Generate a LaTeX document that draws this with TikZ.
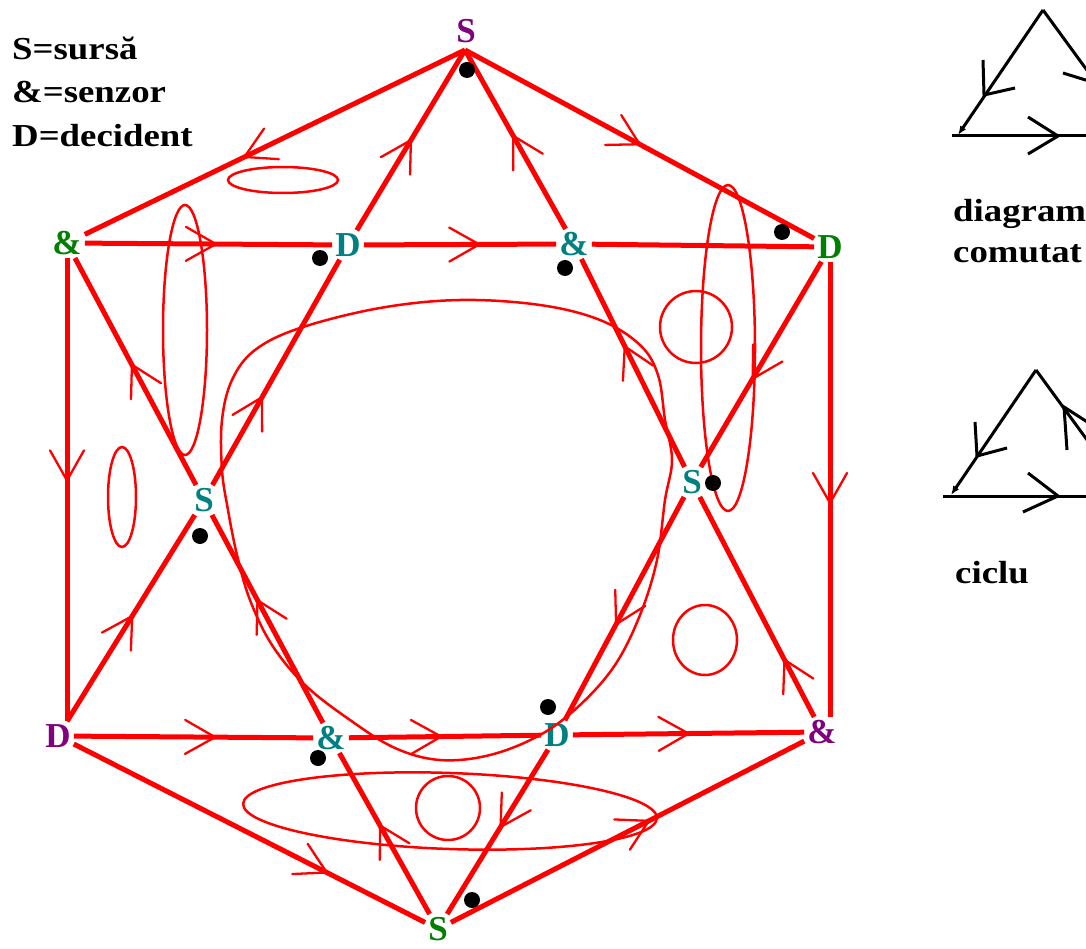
\documentclass[tikz,border=0pt]{standalone}
\usepackage{fontspec}
\setmainfont{Liberation Serif}
\newfontfamily\legfont{Liberation Serif}[FakeStretch=1.15]
\usetikzlibrary{decorations.markings,arrows.meta}
\definecolor{purp}{RGB}{128,0,128}
\definecolor{grn}{RGB}{0,128,0}
\definecolor{tea}{RGB}{0,128,128}
\begin{document}
\begin{tikzpicture}[x=1pt,y=-1pt,
  lab/.style={font=\fontsize{35}{35}\selectfont\bfseries, inner sep=3pt},
  leg/.style={font=\legfont\fontsize{32}{32}\selectfont\bfseries, inner sep=0pt, anchor=base west},
  ln/.style={red, line width=5pt},
  thinred/.style={red, line width=2.5pt},
  tarrow/.style={red, line width=2.3pt, line cap=round, line join=miter},
  blk/.style={black, line width=3pt},
  fw/.style={postaction={decorate, decoration={markings, mark=at position #1 with {\draw[tarrow] (-30,17) -- (0,0) -- (-30,-17);}}}},
  dot/.style={fill=black}
]
\useasboundingbox (0,0) rectangle (1086,949);

% legend
\node[leg] (l1) at (12,60) {S=sursă};
\node[leg] (l2) at (12,103) {\&=senzor};
\node[leg] (l3) at (12,147) {D=decident};

% nodes
\node[lab,text=purp] (tS) at (466,31) {S};
\coordinate (tSv) at (465,50);
\node[lab,text=grn] (lA) at (67,243) {\&};
\node[lab,text=tea] (D1) at (348,245) {D};
\node[lab,text=tea] (A1) at (574,244) {\&};
\node[lab,text=grn] (rD) at (830,247) {D};
\node[lab,text=tea] (S1) at (204,500) {S};
\node[lab,text=tea] (S2) at (692,482) {S};
\node[lab,text=purp] (blD) at (58,736) {D};
\node[lab,text=tea] (A2) at (331,738) {\&};
\node[lab,text=tea] (D2) at (557,735) {D};
\node[lab,text=purp] (brA) at (822,732) {\&};
\node[lab,text=grn] (bS) at (438,929) {S};

% hexagon edges
\draw[ln,fw=0.58] (tSv) -- (lA);
\draw[ln,fw=0.5] (tSv) -- (rD);
\draw[ln,fw=0.48] (lA) -- (lA |- blD.north);
\draw[ln,fw=0.53] (rD) -- (rD |- brA.north);
\draw[ln,fw=0.72] (blD) -- (bS);
\draw[ln,fw=0.56] (bS) -- (brA);
% horizontals
\draw[ln,fw=0.53] (lA) -- (D1);
\draw[ln,fw=0.6] (D1) -- (A1);
\draw[ln] (A1) -- (rD);
\draw[ln,fw=0.59] (blD) -- (A2);
\draw[ln,fw=0.48] (A2) -- (D2);
\draw[ln,fw=0.5] (D2) -- (brA);
% line A
\draw[ln,fw=0.5] (D1) -- (tSv);
\draw[ln,fw=0.39] (S1) -- (D1);
\draw[ln,fw=0.51] (blD) -- (S1);
% line B
\draw[ln,fw=0.52] (A1) -- (tSv);
\draw[ln,fw=0.58] (S2) -- (A1);
\draw[ln,fw=0.26] (brA) -- (S2);
% line C
\draw[ln,fw=0.53] (S1) -- (lA);
\draw[ln,fw=0.59] (A2) -- (S1);
\draw[ln,fw=0.55] (bS) -- (A2);
% line D
\draw[ln,fw=0.57] (rD) -- (S2);
\draw[ln,fw=0.57] (S2) -- (D2);
\draw[ln,fw=0.47] (D2) -- (bS);

% ellipses and circles
\draw[thinred] (283,180) ellipse [x radius=55, y radius=13];
\draw[thinred] (185,330) ellipse [x radius=22, y radius=125];
\draw[thinred] (122,497) ellipse [x radius=14, y radius=50];
\draw[thinred] (728,348) ellipse [x radius=27, y radius=163];
\draw[thinred] (696,327) circle [radius=36];
\draw[thinred] (705,640) ellipse [x radius=32, y radius=35];
\draw[thinred] (448,808) circle [radius=32];
\draw[thinred, rotate around={-2:(450,811)}] (450,811) ellipse [x radius=207, y radius=38];

% big loop
\draw[thinred] plot[smooth cycle, tension=0.6] coordinates {
 (222,470) (222,420) (232,380) (255,350) (300,328) (380,308) (460,300)
 (540,305) (600,320) (640,345) (658,375) (665,420) (672,460) (665,500)
 (657,560) (640,615) (615,665) (580,705) (540,735) (490,755) (440,760)
 (395,748) (350,720) (305,685) (272,645) (250,600) (237,555) (228,510)};

% dots
\foreach \p in {(467,70),(320,258),(565,268),(782,232),(200,536),(713,483),(548,707),(318,758),(472,900)}
  \fill[dot] \p circle [radius=8];

% right-side triangles
\begin{scope}
\clip (0,0) rectangle (1086,949);
\coordinate (t1a) at (1043,10);
\coordinate (t1l) at (958,135);
\draw[blk,-{Latex[length=9pt,width=7pt]}] (t1a) -- (t1l);
\draw[blk] (t1a) -- (1135,136);
\draw[blk] (952,136) -- (1090,136);
\draw[blk] (983,60) -- (984,95) -- (1015,88);
\draw[blk] (1028,117) -- (1058,136) -- (1028,154);
\draw[blk] (1063,73) -- (1092,82);
\coordinate (t2a) at (1036,370);
\coordinate (t2l) at (951,495);
\draw[blk,-{Latex[length=9pt,width=7pt]}] (t2a) -- (t2l);
\draw[blk] (t2a) -- (1128,496);
\draw[blk] (943,496) -- (1090,496);
\draw[blk] (975,422) -- (977,456) -- (1007,448);
\draw[blk] (1067,450) -- (1064,407) -- (1092,425);
\draw[blk] (1028,473) -- (1058,496) -- (1023,512);
\end{scope}
\node[leg] (t1) at (953,222) {diagram};
\node[leg] (t2) at (953,263) {comutat};
\node[leg] (t3) at (955,583) {ciclu};
\end{tikzpicture}
\end{document}
